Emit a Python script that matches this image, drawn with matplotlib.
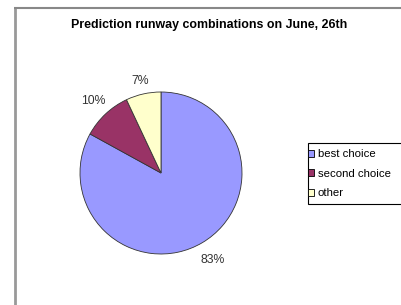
import numpy as np
import matplotlib.pyplot as plt
from matplotlib.patches import Rectangle
from matplotlib.lines import Line2D

plt.rcParams['font.family'] = ['Liberation Sans', 'DejaVu Sans']

labels = ["best choice", "second choice", "other"]
values = [83, 10, 7]
colors = ["#9999FF", "#993366", "#FFFFCC"]
title = "Prediction runway combinations on June, 26th"

W, H = 401, 305
fig = plt.figure(figsize=(W / 100, H / 100), dpi=100)

# outer chart frame (only left and top edges visible in the crop)
fig.add_artist(Line2D([15 / W, 15 / W], [0, 1 - 7 / H], transform=fig.transFigure,
                      color="#999999", lw=2, solid_capstyle="butt"))
fig.add_artist(Line2D([14 / W, 1], [1 - 7.5 / H, 1 - 7.5 / H], transform=fig.transFigure,
                      color="#888888", lw=1.5, solid_capstyle="butt"))

fig.text(209 / W, 1 - 25 / H, title, ha="center", va="center",
         fontsize=8.9, fontweight="bold")

# pie
cx, cy, r = 161, 173, 81
ax = fig.add_axes([(cx - r) / W, (H - cy - r) / H, 2 * r / W, 2 * r / H])
wedges, texts = ax.pie(values, colors=colors, startangle=90, counterclock=False,
                       labels=[f"{v}%" for v in values], labeldistance=1.2,
                       wedgeprops=dict(edgecolor="#333333", linewidth=0.6),
                       textprops=dict(fontsize=8.8, color="#333333"))
# excel puts labels a fixed gap outside the rim, nudge each one
label_dist = [1.25, 1.22, 1.17]
for w, t, d in zip(wedges, texts, label_dist):
    ang = np.deg2rad((w.theta1 + w.theta2) / 2)
    t.set_position((d * np.cos(ang), d * np.sin(ang)))
    t.set_ha("center")
    t.set_va("center")
ax.set_xlim(-1, 1)
ax.set_ylim(-1, 1)
ax.set_aspect("auto")
ax.axis("off")

# legend
fig.add_artist(Rectangle((308 / W, 1 - 203.5 / H), 0.5, 60.5 / H, transform=fig.transFigure,
                         facecolor="white", edgecolor="black", lw=0.8))
handles = [Rectangle((0, 0), 1, 1, facecolor=c, edgecolor="black", lw=0.6) for c in colors]
fig.legend(handles, labels, loc="upper left", bbox_to_anchor=(307 / W, 1 - 148 / H),
           frameon=False, fontsize=8.2, handlelength=0.55, handleheight=0.55,
           handletextpad=0.3, labelspacing=0.85, borderaxespad=0, borderpad=0.1)

fig.savefig("out.png", dpi=100)
